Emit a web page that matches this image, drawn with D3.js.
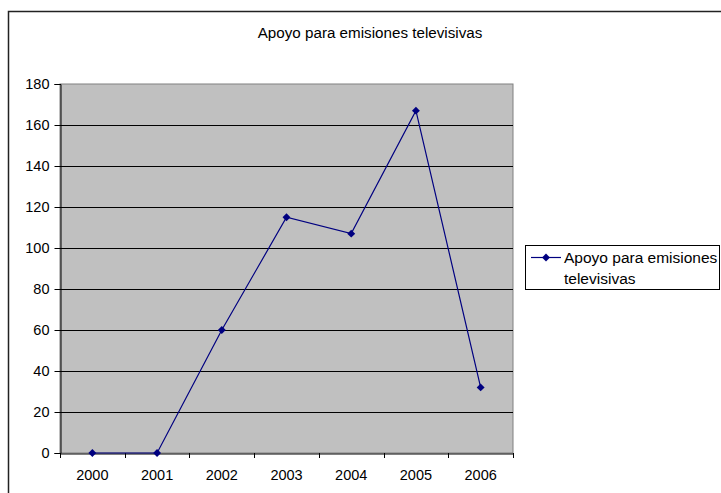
<!DOCTYPE html>
<html><head><meta charset="utf-8">
<script src="https://cdn.jsdelivr.net/npm/d3@7"></script>
<style>body{margin:0;background:#fff}svg{display:block}</style>
</head><body>
<svg id="c" width="721" height="493"></svg>
<script>
const categories = ["2000","2001","2002","2003","2004","2005","2006"];
const values = [0, 0, 60, 115, 107, 167, 32];
const yTicks = [0,20,40,60,80,100,120,140,160,180];
const title = "Apoyo para emisiones televisivas";
const seriesName = ["Apoyo para emisiones", "televisivas"];

const svg = d3.select("#c");
const font = "'Liberation Sans', Arial, sans-serif";
const fs = 14.5;
const L = 60, R = 513, T = 84, B = 453;

// outer border
svg.append("rect").attr("x",8.5).attr("y",11.5).attr("width",740).attr("height",520)
  .attr("fill","#fff").attr("stroke","#222").attr("stroke-width",1.5);

svg.append("text").attr("x",370).attr("y",38).attr("text-anchor","middle")
  .attr("font-family",font).attr("font-size",15.2).text(title);

const x = d3.scaleBand().domain(categories).range([L,R]).padding(0);
const y = d3.scaleLinear().domain([0,180]).range([B,T]);

svg.append("rect").attr("x",L).attr("y",T).attr("width",R-L).attr("height",B-T)
  .attr("fill","#C0C0C0").attr("stroke","#808080").attr("stroke-width",1);

// gridlines
svg.append("g").selectAll("line").data(yTicks.filter(d=>d>0 && d<180)).join("line")
  .attr("x1",L).attr("x2",R).attr("y1",d=>Math.round(y(d))+0.5).attr("y2",d=>Math.round(y(d))+0.5)
  .attr("stroke","#000").attr("stroke-width",1);

// y axis
const ya = svg.append("g").attr("transform",`translate(${L+0.5},0)`)
  .call(d3.axisLeft(y).tickValues(yTicks).tickSize(6).tickPadding(5));
ya.select(".domain").attr("stroke","#000");
ya.selectAll("line").attr("stroke","#000");
ya.selectAll("text").attr("font-family",font).attr("font-size",fs).attr("fill","#000");

// x axis
const xa = svg.append("g").attr("transform",`translate(0,${B+0.5})`)
  .call(d3.axisBottom(x).tickSize(0).tickPadding(16));
xa.select(".domain").attr("stroke","#000");
xa.selectAll("text").attr("font-family",font).attr("font-size",fs).attr("fill","#000");
svg.append("g").selectAll("line").data(categories.concat(["end"])).join("line")
  .attr("x1",(d,i)=>Math.round(L+i*x.bandwidth())+0.5)
  .attr("x2",(d,i)=>Math.round(L+i*x.bandwidth())+0.5)
  .attr("y1",B).attr("y2",B+5).attr("stroke","#000");

// line
const line = d3.line().x((d,i)=>x(categories[i])+x.bandwidth()/2).y(d=>y(d));
svg.append("path").datum(values).attr("d",line).attr("fill","none")
  .attr("stroke","#000080").attr("stroke-width",1.2);
const diamond = d3.symbol().type(d3.symbolDiamond2).size(40);
svg.append("g").selectAll("path").data(values).join("path")
  .attr("transform",(d,i)=>`translate(${x(categories[i])+x.bandwidth()/2},${y(d)})`)
  .attr("d",diamond).attr("fill","#000080");

// legend
svg.append("rect").attr("x",525.5).attr("y",245.5).attr("width",194).attr("height",44)
  .attr("fill","#fff").attr("stroke","#000");
svg.append("line").attr("x1",531).attr("x2",561).attr("y1",257.5).attr("y2",257.5)
  .attr("stroke","#000080").attr("stroke-width",1.2);
svg.append("path").attr("transform","translate(546,257.5)").attr("d",diamond).attr("fill","#000080");
svg.append("text").attr("x",564).attr("y",263).attr("font-family",font).attr("font-size",15.5)
  .selectAll("tspan").data(seriesName).join("tspan")
  .attr("x",564).attr("dy",(d,i)=>i?21:0).text(d=>d);
</script>
</body></html>
